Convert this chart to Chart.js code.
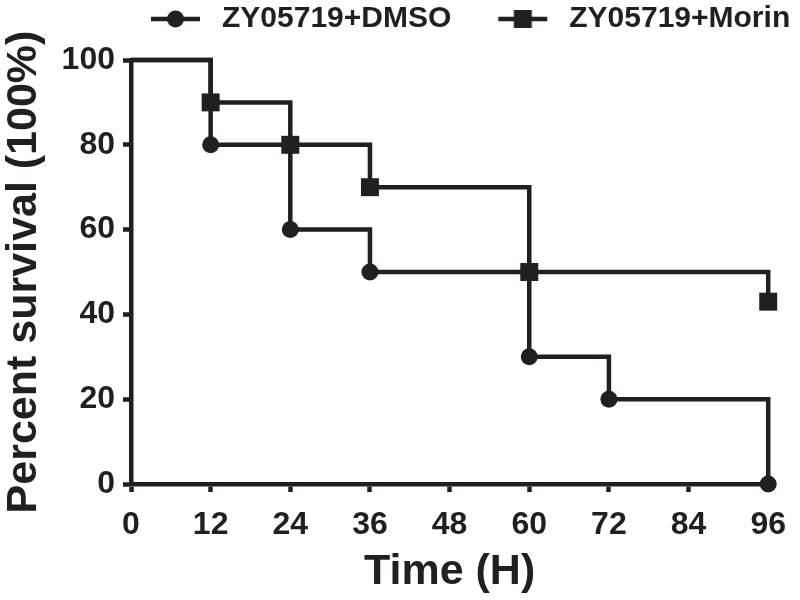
<!DOCTYPE html>
<html>
<head>
<meta charset="utf-8">
<script src="https://cdn.jsdelivr.net/npm/chart.js@4.4.1/dist/chart.umd.min.js"></script>
<style>
  html, body { margin: 0; padding: 0; background: #ffffff; }
  #wrap { width: 800px; height: 600px; }
</style>
</head>
<body>
<div id="wrap"><canvas id="c" width="800" height="600"></canvas></div>
<script>
// ---- data ----
const seriesNames = ['ZY05719+DMSO', 'ZY05719+Morin'];
const dmsoTime = [0, 12, 24, 36, 60, 72, 96];
const dmsoSurvival = [100, 80, 60, 50, 30, 20, 0];
const morinTime = [0, 12, 24, 36, 60, 96];
const morinSurvival = [100, 90, 80, 70, 50, 43];
const xTitle = 'Time (H)';
const yTitle = 'Percent survival (100%)';

const INK = '#231f20';
const TICK_FONT = { family: "'Liberation Sans', Arial, sans-serif", size: 32, weight: 'bold' };
const TITLE_FONT = { family: "'Liberation Sans', Arial, sans-serif", size: 43, weight: 'bold', lineHeight: 1.1 };
const LEGEND_FONT = { family: "'Liberation Sans', Arial, sans-serif", size: 30, weight: 'bold' };

function toPoints(xs, ys) { return xs.map((x, i) => ({ x: x, y: ys[i] })); }
function radii(xs, r) { return xs.map((x, i) => (i === 0 ? 0 : r)); }

// legend sample images (line + marker)
function sample(kind) {
  const c = document.createElement('canvas');
  c.width = 60; c.height = 24;
  const g = c.getContext('2d');
  g.strokeStyle = INK; g.fillStyle = INK; g.lineWidth = 4.5;
  g.beginPath(); g.moveTo(4, 12); g.lineTo(53, 12); g.stroke();
  if (kind === 'circle') { g.beginPath(); g.arc(28.5, 12, 8.5, 0, Math.PI * 2); g.fill(); }
  else { g.fillRect(28.5 - 9, 3, 18, 18); }
  return c;
}
const samples = [sample('circle'), sample('rect')];

const LEG_PAD = 43;
const legendPlace = {
  id: 'legendPlace',
  afterLayout(chart) {
    const lg = chart.legend;
    if (!lg) return;
    lg.left = 147 - LEG_PAD;
    lg.right = 900;
    lg.top = 19 - 15 - LEG_PAD;
    lg.bottom = 60;
  }
};

new Chart(document.getElementById('c'), {
  type: 'line',
  data: {
    datasets: [
      {
        label: seriesNames[0],
        data: toPoints(dmsoTime, dmsoSurvival),
        stepped: 'before',
        borderColor: INK, borderWidth: 4.5, borderJoinStyle: 'miter', borderCapStyle: 'butt',
        pointStyle: 'circle', pointRadius: radii(dmsoTime, 8.5),
        pointBackgroundColor: INK, pointBorderWidth: 0, pointHoverRadius: 0,
        fill: false, clip: false
      },
      {
        label: seriesNames[1],
        data: toPoints(morinTime, morinSurvival),
        stepped: 'before',
        borderColor: INK, borderWidth: 4.5, borderJoinStyle: 'miter', borderCapStyle: 'butt',
        pointStyle: 'rect', pointRadius: radii(morinTime, 12.7),
        pointBackgroundColor: INK, pointBorderWidth: 0, pointHoverRadius: 0,
        fill: false, clip: false
      }
    ]
  },
  options: {
    responsive: false,
    animation: false,
    events: [],
    layout: { padding: { left: 0, right: 24, top: 0, bottom: 0 } },
    plugins: {
      tooltip: { enabled: false },
      legend: {
        position: 'top',
        align: 'start',
        maxHeight: 60,
        labels: {
          usePointStyle: true,
          pointStyleWidth: 60,
          padding: LEG_PAD,
          color: INK,
          font: LEGEND_FONT,
          generateLabels(chart) {
            const items = Chart.defaults.plugins.legend.labels.generateLabels(chart);
            return items.map((it, i) => Object.assign(it, { pointStyle: samples[i] }));
          }
        }
      }
    },
    scales: {
      x: {
        type: 'linear',
        min: 0, max: 96,
        afterFit(s) { s.height = 116; },
        border: { display: true, color: INK, width: 4.5 },
        grid: { display: true, drawOnChartArea: false, drawTicks: true, tickLength: 8, tickWidth: 4.5, tickColor: INK },
        ticks: { stepSize: 12, color: INK, font: TICK_FONT, padding: 14, maxRotation: 0, autoSkip: false },
        title: { display: true, text: xTitle, color: INK, font: TITLE_FONT, padding: { top: 0, bottom: 4 } }
      },
      y: {
        min: 0, max: 100,
        afterFit(s) { s.width = 131; },
        border: { display: true, color: INK, width: 4.5 },
        grid: { display: true, drawOnChartArea: false, drawTicks: true, tickLength: 8, tickWidth: 4.5, tickColor: INK },
        ticks: { stepSize: 20, color: INK, font: TICK_FONT, padding: 8 },
        title: { display: true, text: yTitle, color: INK, font: TITLE_FONT, padding: { top: 0, bottom: 0 } }
      }
    }
  },
  plugins: [legendPlace]
});
</script>
</body>
</html>
